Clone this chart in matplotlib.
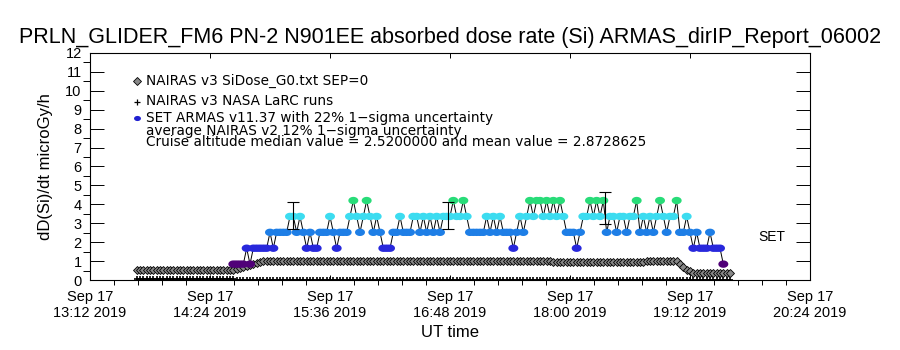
import numpy as np
import matplotlib
matplotlib.use('Agg')
import matplotlib.pyplot as plt
import matplotlib.dates as mdates
from matplotlib.path import Path

plt.rcParams['font.family'] = ['Liberation Sans', 'DejaVu Sans']

# ARMAS quantised dose levels (microGy/h) and the colour used for each level
armas_levels = [0.84, 1.68, 2.52, 3.36, 4.20]
level_colors = ['#500078', '#2828DC', '#1E7EE6', '#3CDCF0', '#28DC78']

# ARMAS samples, index into armas_levels, one sample every 2 minutes from 14:38 UT
armas_start = np.datetime64('2019-09-17T14:38')
armas_idx = [
    0, 0, 0, 0, 1, 0, 1, 1, 1, 1,
    1, 2, 1, 2, 2, 2, 2, 3, 3, 2,
    3, 2, 1, 2, 1, 1, 2, 2, 2, 3,
    2, 1, 2, 2, 2, 3, 4, 3, 2, 3,
    4, 3, 2, 3, 2, 1, 1, 1, 2, 2,
    3, 2, 2, 2, 3, 3, 2, 3, 2, 3,
    2, 3, 2, 3, 3, 3, 4, 3, 3, 4,
    3, 2, 2, 2, 2, 2, 3, 2, 3, 2,
    3, 2, 2, 2, 1, 2, 3, 2, 3, 4,
    3, 4, 4, 3, 4, 3, 4, 3, 4, 3,
    2, 2, 2, 1, 2, 3, 3, 4, 3, 4,
    3, 4, 2, 3, 3, 2, 3, 3, 2, 3,
    3, 4, 2, 3, 2, 3, 2, 3, 4, 3,
    2, 3, 3, 4, 2, 2, 3, 2, 1, 2,
    1, 1, 1, 2, 1, 1, 1, 0,
]

# error bars on the ARMAS data: time, centre, half width
err_time = np.array(['2019-09-17T15:14', '2019-09-17T16:47', '2019-09-17T18:21'], dtype='datetime64[m]')
err_mid = [3.39, 3.39, 3.81]
err_half = [0.71, 0.71, 0.83]

# NAIRAS model runs, one value every 2 minutes from 13:40 UT
model_start = np.datetime64('2019-09-17T13:40')
nairas_sidose = [
    0.55, 0.55, 0.55, 0.55, 0.55, 0.55, 0.55, 0.55, 0.55, 0.55,
    0.55, 0.55, 0.55, 0.55, 0.55, 0.55, 0.55, 0.55, 0.55, 0.55,
    0.55, 0.55, 0.55, 0.55, 0.55, 0.55, 0.55, 0.55, 0.55, 0.55,
    0.58, 0.62, 0.67, 0.72, 0.78, 0.84, 0.90, 0.95, 0.98, 0.99,
    0.99, 0.99, 0.99, 0.99, 0.99, 0.99, 0.99, 0.99, 0.99, 0.99,
    0.99, 0.99, 0.99, 0.99, 0.99, 0.99, 0.99, 0.99, 0.99, 0.99,
    0.99, 0.99, 0.99, 0.99, 0.99, 0.99, 0.99, 0.99, 0.99, 0.99,
    0.99, 0.99, 0.99, 0.99, 0.99, 0.99, 0.99, 0.99, 0.99, 0.99,
    0.99, 0.99, 0.99, 0.99, 0.99, 0.99, 0.99, 0.99, 0.99, 0.99,
    0.99, 0.99, 0.99, 0.99, 0.99, 0.99, 0.99, 0.99, 0.99, 0.99,
    0.99, 0.99, 0.99, 0.99, 0.99, 0.99, 0.99, 0.99, 0.99, 0.99,
    0.99, 0.99, 0.99, 0.99, 0.99, 0.99, 0.99, 0.99, 0.99, 0.99,
    0.99, 0.99, 0.99, 0.99, 0.99, 0.93, 0.93, 0.93, 0.93, 0.93,
    0.93, 0.93, 0.93, 0.93, 0.93, 0.93, 0.93, 0.93, 0.93, 0.93,
    0.93, 0.93, 0.93, 0.93, 0.93, 0.93, 0.93, 0.93, 0.93, 0.93,
    0.93, 0.93, 0.93, 0.99, 0.99, 0.99, 0.99, 0.99, 0.99, 0.99,
    0.99, 0.99, 0.99, 0.85, 0.70, 0.55, 0.45, 0.38, 0.35, 0.35,
    0.35, 0.35, 0.35, 0.35, 0.35, 0.35, 0.35, 0.35, 0.35,
]
nairas_larc = [
    0.06, 0.06, 0.06, 0.06, 0.06, 0.06, 0.06, 0.06, 0.06, 0.06,
    0.06, 0.06, 0.06, 0.06, 0.06, 0.06, 0.06, 0.06, 0.06, 0.06,
    0.06, 0.06, 0.06, 0.06, 0.06, 0.06, 0.06, 0.06, 0.06, 0.06,
    0, 0, 0, 0, 0, 0, 0, 0, 0, 0, 0, 0, 0, 0, 0, 0, 0, 0, 0, 0,
    0, 0, 0, 0, 0, 0, 0, 0, 0, 0, 0, 0, 0, 0, 0, 0, 0, 0, 0, 0,
    0, 0, 0, 0, 0, 0, 0, 0, 0, 0, 0, 0, 0, 0, 0, 0, 0, 0, 0, 0,
    0, 0, 0, 0, 0, 0, 0, 0, 0, 0, 0, 0, 0, 0, 0, 0, 0, 0, 0, 0,
    0, 0, 0, 0, 0, 0, 0, 0, 0, 0, 0, 0, 0, 0, 0, 0, 0, 0, 0, 0,
    0, 0, 0, 0, 0, 0, 0, 0, 0, 0, 0, 0, 0, 0, 0, 0, 0, 0, 0, 0,
    0, 0, 0, 0, 0, 0, 0, 0, 0, 0, 0, 0, 0, 0, 0, 0, 0, 0, 0, 0,
    0, 0, 0, 0, 0, 0, 0, 0, 0,
]

legend_lines = [
    'NAIRAS v3 SiDose_G0.txt SEP=0',
    'NAIRAS v3 NASA LaRC runs',
    'SET ARMAS v11.37 with 22% 1\u2212sigma uncertainty',
    'average NAIRAS v2 12% 1\u2212sigma uncertainty',
    'Cruise altitude median value = 2.5200000 and mean value = 2.8728625',
]

step = np.timedelta64(2, 'm')
armas_time = armas_start + np.arange(len(armas_idx)) * step
armas_dose = np.array([armas_levels[i] for i in armas_idx])
armas_col = [level_colors[i] for i in armas_idx]
model_time = model_start + np.arange(len(nairas_sidose)) * step

# flat ellipse marker, like the IDL filled symbol
th = np.linspace(0, 2 * np.pi, 25)
blob = Path(np.column_stack([1.35 * np.cos(th), np.sin(th)]))

fig = plt.figure(figsize=(9, 3.5), dpi=100)
ax = fig.add_axes([0.1, 0.2, 0.8, 0.6486])

ax.plot(model_time, nairas_larc, '+', color='black', ms=5, mew=1.2, zorder=2)
ax.plot(model_time, nairas_sidose, 'D', ms=3.6, mfc='#888888', mec='black', mew=0.6, zorder=3)
ax.plot(armas_time, armas_dose, '-', color='black', lw=0.7, zorder=4)
ax.scatter(armas_time, armas_dose, s=52, c=armas_col, marker=blob, edgecolors='none', zorder=5)
ax.errorbar(err_time, err_mid, yerr=err_half, fmt='none', ecolor='black', elinewidth=0.8,
            capsize=4, capthick=0.8, zorder=6)

ax.text(np.datetime64('2019-09-17T20:01'), 2.26, 'SET', fontsize=10, ha='center', va='center')

t0 = np.datetime64('2019-09-17T13:12')
t1 = np.datetime64('2019-09-17T20:24')
ax.set_xlim(t0, t1)
ax.set_ylim(0, 12)
ax.set_xticks(np.arange(t0, t1 + np.timedelta64(1, 'm'), np.timedelta64(72, 'm')))
ax.set_xticks(np.arange(t0, t1, np.timedelta64(864, 's')), minor=True)
ax.xaxis.set_major_formatter(mdates.DateFormatter('%b %d\n%H:%M %Y'))
ax.set_yticks(range(0, 13))
ax.set_yticks(np.arange(0.5, 12, 1.0), minor=True)

ax.tick_params(direction='in', top=True, right=True, labelsize=10.5, width=0.7)
ax.tick_params(axis='x', which='major', length=3.5, pad=7)
ax.tick_params(axis='x', which='minor', length=3.5, width=0.7)
ax.tick_params(axis='y', which='major', length=10.4, pad=6)
ax.tick_params(axis='y', which='minor', length=5.2, width=0.7)
for s in ax.spines.values():
    s.set_linewidth(0.8)

ax.set_xlabel('UT time', fontsize=12, labelpad=4)
ax.set_ylabel('dD(Si)/dt microGy/h', fontsize=12, labelpad=9)
fig.text(0.5, 1 - 37 / 350, 'PRLN_GLIDER_FM6 PN-2 N901EE absorbed dose rate (Si) ARMAS_dirIP_Report_06002',
         ha='center', va='center', fontsize=15.5)

# legend block drawn in axes coordinates, like the original IDL plot
def ax_xy(px, py):
    return (px - 90) / 720, (280 - py) / 227

leg_y = [81, 101, 118, 131, 142]
for txt, py in zip(legend_lines, leg_y):
    x, y = ax_xy(146, py)
    ax.text(x, y, txt, transform=ax.transAxes, fontsize=9.8, va='center', ha='left',
            family=['DejaVu Sans'])
x, y = ax_xy(137, 81)
ax.plot(x, y, 'D', ms=3.6, mfc='#888888', mec='black', mew=0.6, transform=ax.transAxes, clip_on=False)
x, y = ax_xy(137, 102)
ax.plot(x, y, '+', color='black', ms=5, mew=0.9, transform=ax.transAxes, clip_on=False)
x, y = ax_xy(137, 118)
ax.plot(x, y, marker=blob, ms=5, mfc='#2020D0', mec='none', transform=ax.transAxes, clip_on=False)

fig.savefig('out.png', dpi=100)
